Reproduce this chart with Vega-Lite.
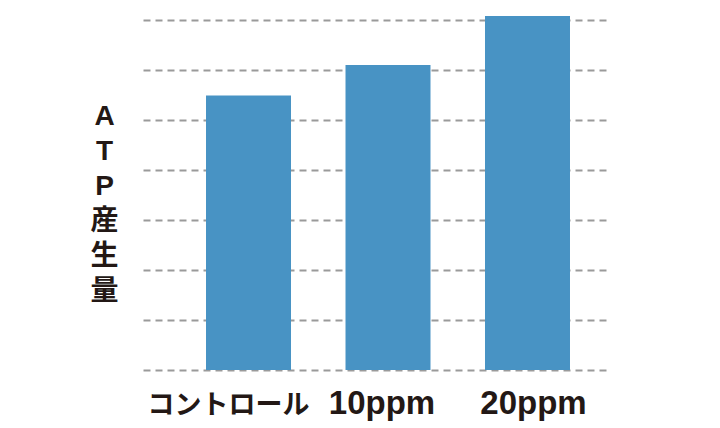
{
  "$schema": "https://vega.github.io/schema/vega-lite/v6.json",
  "autosize": "none",
  "width": 464,
  "height": 350,
  "padding": {"left": 143, "top": 20, "right": 113, "bottom": 58},
  "background": "#ffffff",
  "data": {"values": [
    {"group": "コントロール", "atp": 5.49},
    {"group": "10ppm", "atp": 6.1},
    {"group": "20ppm", "atp": 7.08}
  ]},
  "mark": {"type": "bar", "color": "#4893C4", "clip": false},
  "encoding": {
    "x": {
      "field": "group", "type": "nominal", "sort": null,
      "scale": {"paddingInner": 0.3907, "paddingOuter": 0.3585, "align": 0.63},
      "axis": {
        "title": null, "domain": false, "ticks": false, "grid": false,
        "labelAngle": 0,
        "labelFontSize": {"condition": {"test": "datum.value === 'コントロール'", "value": 27}, "value": 33},
        "labelOffset": {"condition": [
          {"test": "datum.value === 'コントロール'", "value": -20},
          {"test": "datum.value === '10ppm'", "value": -6}
        ], "value": 6},
        "labelFontWeight": "bold",
        "labelFont": "Liberation Sans, Noto Sans CJK JP", "labelColor": "#231815",
        "labelBaseline": "alphabetic",
        "labelPadding": 43, "labelOverlap": false, "labelBound": false, "labelLimit": 0
      }
    },
    "y": {
      "field": "atp", "type": "quantitative",
      "scale": {"domain": [0, 7], "nice": false, "zero": true},
      "axis": {
        "values": [0, 1, 2, 3, 4, 5, 6, 7],
        "domain": false, "ticks": false, "labels": false,
        "grid": true, "gridColor": "#9a9a9a", "gridWidth": 2.2, "gridDash": [7, 5],
        "title": ["A", "T", "P", "産", "生", "量"],
        "titleAngle": 0, "titleFontSize": 28, "titleFontWeight": "bold",
        "titleFont": "Liberation Sans, Noto Sans CJK JP", "titleColor": "#231815",
        "titleLineHeight": 35, "titleAlign": "center", "titleBaseline": "top",
        "titleX": -39, "titleY": 82
      }
    }
  },
  "config": {"view": {"stroke": null}}
}
